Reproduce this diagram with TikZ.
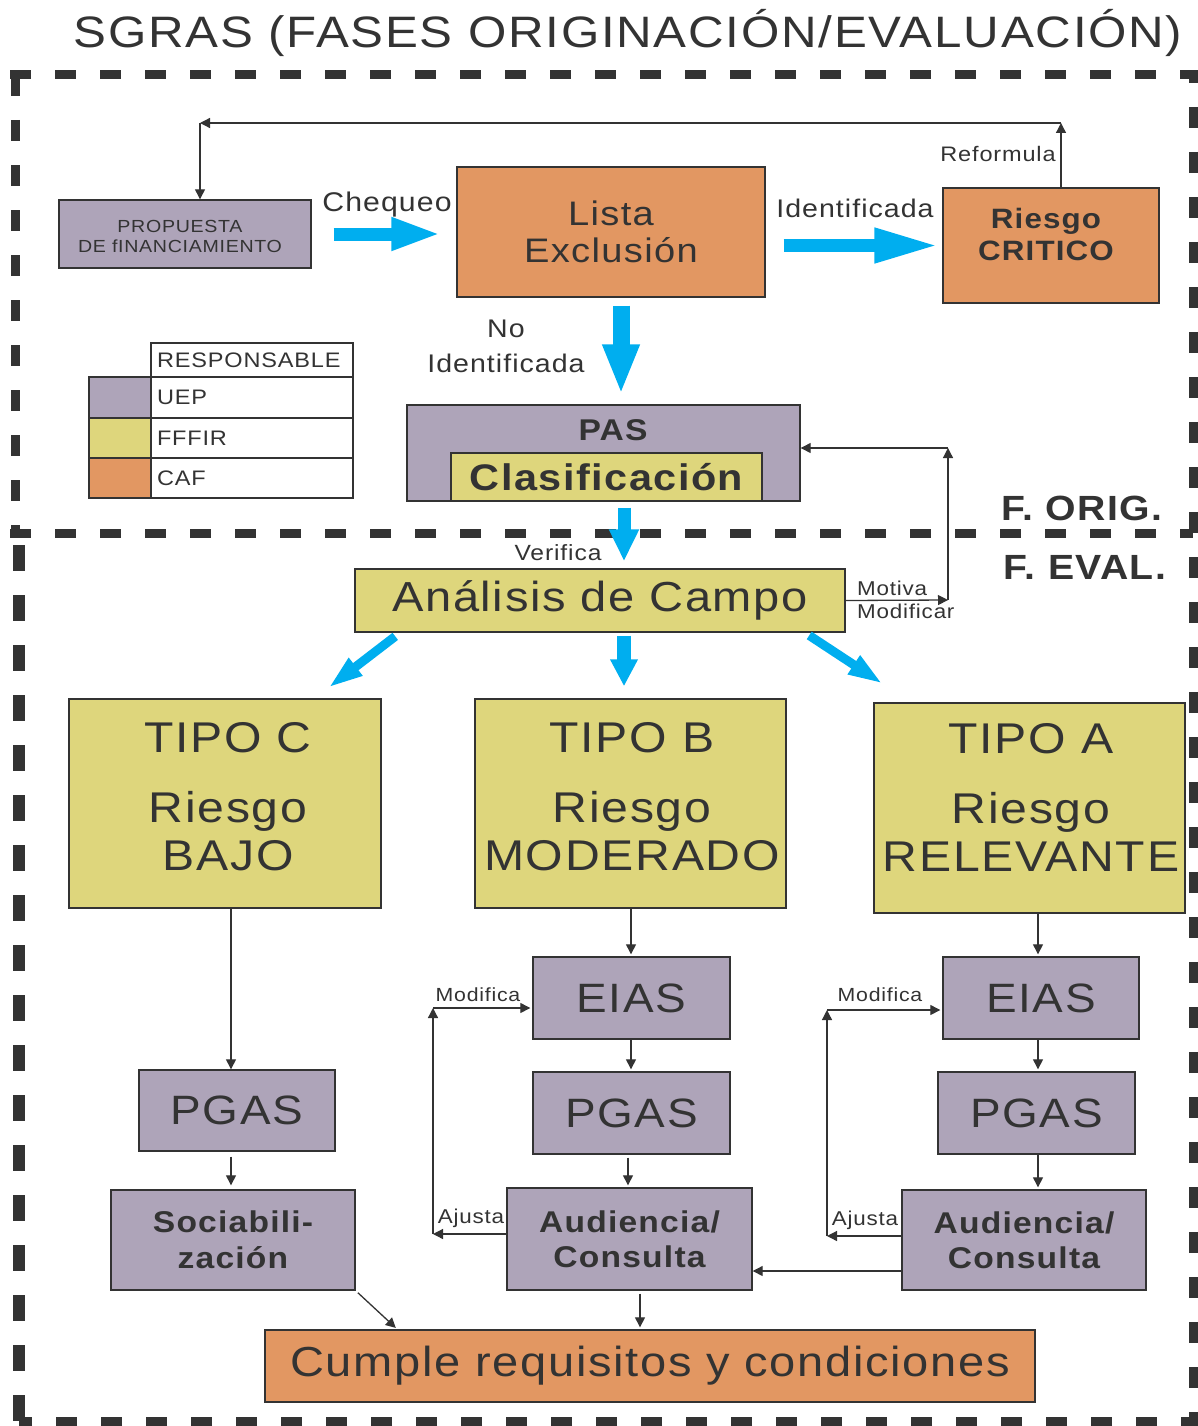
\documentclass[tikz,border=0pt]{standalone}
\usepackage{fontspec}
\setmainfont{Liberation Sans}[LetterSpace=4,FakeStretch=1.12]
\usetikzlibrary{arrows.meta,calc}
\definecolor{pur}{RGB}{174,164,185}
\definecolor{yel}{RGB}{222,214,124}
\definecolor{ora}{RGB}{226,151,98}
\definecolor{sky}{RGB}{0,174,239}
\definecolor{ink}{RGB}{51,51,51}
\newcommand\fz[2]{\fontsize{#1}{#2}\selectfont}
\begin{document}
\begin{tikzpicture}[x=1pt,y=-1pt,
  box/.style={draw=ink, line width=1.4pt, inner sep=0pt, text=ink, align=center},
  pbox/.style={box, fill=pur},
  ybox/.style={box, fill=yel},
  obox/.style={box, fill=ora},
  cell/.style={box, fill=white, minimum width=202pt, text width=190pt, inner xsep=6pt, align=left, font=\fz{21}{24}},
  lbl/.style={text=ink, inner sep=0pt, align=center},
  tarr/.style={draw=ink, line width=1.3pt, -{Triangle[length=10pt,width=10pt]}},
  bluea/.style n args={3}{draw=sky, line width=#1pt, -{Triangle[length=#2pt,width=#3pt]}},
  border/.style={draw=ink, line width=9pt, dash pattern=on 21pt off 24pt}]
\path[use as bounding box] (0,0) rectangle (1197,1426);
% dashed frame
\draw[border] (10,75) -- (1193,75) -- (1193,1421) -- (19,1421);
\draw[border] (15,75) -- (15,533);
\draw[draw=ink, line width=12pt, dash pattern=on 26pt off 24pt] (19,545) -- (19,1421);
\draw[border] (10,533) -- (1193,533);
% title
\node[lbl, font=\fz{44}{50}] (title) at (628,33) {SGRAS (FASES ORIGINACIÓN/EVALUACIÓN)};
% top nodes
\node[pbox, minimum width=252pt, minimum height=68pt] (prop) at (185,234) {};
\node[lbl, font=\fz{17.5}{20}] (propT) at (180,236) {PROPUESTA\\DE fINANCIAMIENTO};
\node[obox, minimum width=308pt, minimum height=130pt, font=\fz{34}{37}] (lista) at (611,232) {Lista\\Exclusión};
\node[obox, minimum width=216pt, minimum height=115pt] (crit) at (1051,245.5) {};
\node[lbl, font=\fz{28}{32}\bfseries] (critT) at (1046,234) {Riesgo\\CRITICO};
\node[lbl, font=\fz{27}{30}] (cheq) at (387,205) {Chequeo};
\node[lbl, font=\fz{25.5}{30}] (idl) at (855,208) {Identificada};
\node[lbl, font=\fz{21}{24}] (refl) at (998,154) {Reformula};
\node[lbl, font=\fz{25.5}{35}] (noid) at (506,346) {No\\Identificada};
% legend
\node[cell, minimum height=34pt] (lhead) at (252,360) {RESPONSABLE};
\node[cell, minimum height=41pt] (luep) at (252,397.5) {UEP};
\node[cell, minimum height=40pt] (lfff) at (252,438) {FFFIR};
\node[cell, minimum height=40pt] (lcaf) at (252,478) {CAF};
\node[box, fill=pur, minimum width=62pt, minimum height=41pt] (sw1) at (120,397.5) {};
\node[box, fill=yel, minimum width=62pt, minimum height=40pt] (sw2) at (120,438) {};
\node[box, fill=ora, minimum width=62pt, minimum height=40pt] (sw3) at (120,478) {};
% PAS
\node[pbox, minimum width=393pt, minimum height=96pt] (pas) at (603.5,453) {};
\node[lbl, font=\fz{30}{32}\bfseries] (pasT) at (613,430) {PAS};
\node[ybox, minimum width=311pt, minimum height=48pt, font=\fz{37}{40}\bfseries] (clas) at (606.5,477) {Clasificación};
\node[lbl, font=\fz{22}{24}] (ver) at (558,553) {Verifica};
\node[ybox, minimum width=490pt, minimum height=63pt, font=\fz{42}{46}] (anal) at (600,600.5) {Análisis de Campo};
\node[lbl, anchor=west, align=left, font=\fz{20}{23}] (mot) at (857,600) {Motiva\\Modificar};
\node[lbl, font=\fz{35}{38}\bfseries] (forig) at (1082,508) {F. ORIG.};
\node[lbl, font=\fz{35}{38}\bfseries] (feval) at (1085,567) {F. EVAL.};
% tipos
\node[ybox, minimum width=312pt, minimum height=209pt] (tc) at (225,803.5) {};
\node[ybox, minimum width=311pt, minimum height=209pt] (tb) at (630.5,803.5) {};
\node[ybox, minimum width=311pt, minimum height=210pt] (ta) at (1029.5,808) {};
\node[lbl, font=\fz{43}{48}] (tcT) at (228,797) {TIPO C\\[22pt]Riesgo\\BAJO};
\node[lbl, font=\fz{43}{48}] (tbT) at (632,797) {TIPO B\\[22pt]Riesgo\\MODERADO};
\node[lbl, font=\fz{43}{48}] (taT) at (1031,797) {TIPO A\\[22pt]Riesgo\\RELEVANTE};
% column C
\node[pbox, minimum width=196pt, minimum height=81pt, font=\fz{41}{44}] (pgc) at (237,1110.5) {PGAS};
\node[pbox, minimum width=244pt, minimum height=100pt, font=\fz{30}{36}\bfseries] (soc) at (233,1240) {Sociabili-\\zación};
% column B
\node[pbox, minimum width=197pt, minimum height=82pt, font=\fz{41}{44}] (eb) at (631.5,998) {EIAS};
\node[pbox, minimum width=197pt, minimum height=82pt, font=\fz{41}{44}] (pb) at (631.5,1113) {PGAS};
\node[pbox, minimum width=245pt, minimum height=102pt, font=\fz{30}{35}\bfseries] (ab) at (629.5,1239) {Audiencia/\\Consulta};
% column A
\node[pbox, minimum width=196pt, minimum height=82pt, font=\fz{41}{44}] (ea) at (1041,998) {EIAS};
\node[pbox, minimum width=197pt, minimum height=82pt, font=\fz{41}{44}] (pa) at (1036.5,1113) {PGAS};
\node[pbox, minimum width=244pt, minimum height=100pt, font=\fz{30}{35}\bfseries] (aa) at (1024,1240) {Audiencia/\\Consulta};
% final
\node[obox, minimum width=770pt, minimum height=72pt, font=\fz{42}{46}] (cum) at (650,1366) {Cumple requisitos y condiciones};
% loop labels
\node[lbl, font=\fz{20}{22}] (ajb) at (471,1218) {Ajusta};
\node[lbl, font=\fz{19}{22}] (modb) at (478,995) {Modifica};
\node[lbl, font=\fz{20}{22}] (aja) at (865,1220) {Ajusta};
\node[lbl, font=\fz{19}{22}] (moda) at (880,995) {Modifica};
% blue arrows
\draw[bluea={13}{50}{30}, shorten <=22pt, shorten >=15pt] (prop.east) -- (lista.west |- prop.east);
\draw[bluea={13}{65}{32}, shorten <=18pt, shorten >=3pt] (lista.east |- crit.west) -- (crit.west);
\draw[bluea={17}{50}{34}, shorten <=8pt, shorten >=10pt] (621,0 |- lista.south) -- (621,0 |- pas.north);
\draw[bluea={13}{32}{28}, shorten <=6pt, shorten >=7pt] (624,0 |- pas.south) -- (624,0 |- anal.north);
\draw[bluea={14}{27}{26}, shorten <=3pt, shorten >=12pt] (624,0 |- anal.south) -- (624,0 |- tb.north);
\coordinate (dl) at (328,688);
\coordinate (dr) at (883,684);
\draw[bluea={9}{35}{20}, shorten <=6pt] (400,0 |- anal.south) -- (dl);
\draw[bluea={9}{35}{20}, shorten <=5pt] (805,0 |- anal.south) -- (dr);
% reformula loop
\coordinate (rf1) at (1061,123);
\coordinate (rf2) at (200,123);
\draw[tarr] (rf1 |- crit.north) -- (rf1);
\draw[tarr] (rf1) -- (rf2);
\draw[tarr] (rf2) -- (rf2 |- prop.north);
% motiva loop
\coordinate (mo1) at (948,600);
\coordinate (mo2) at (948,448);
\draw[tarr] (anal.east) -- (mo1);
\draw[tarr] (mo1) -- (mo2);
\draw[tarr] (mo2) -- (mo2 -| pas.east);
% column arrows
\draw[tarr] (231,0 |- tc.south) -- (231,0 |- pgc.north);
\draw[tarr, shorten <=5pt, shorten >=4pt] (231,0 |- pgc.south) -- (231,0 |- soc.north);
\draw[tarr, shorten <=3pt, shorten >=2pt] (soc.south east) -- ($(cum.north west)+(133,0)$);
\draw[tarr, shorten >=2pt] (631,0 |- tb.south) -- (631,0 |- eb.north);
\draw[tarr, shorten >=2pt] (631,0 |- eb.south) -- (631,0 |- pb.north);
\draw[tarr, shorten <=3pt, shorten >=2pt] (628,0 |- pb.south) -- (628,0 |- ab.north);
\draw[tarr, shorten <=3pt, shorten >=2pt] (640,0 |- ab.south) -- (640,0 |- cum.north);
\draw[tarr, shorten >=2pt] (1038,0 |- ta.south) -- (1038,0 |- ea.north);
\draw[tarr, shorten >=2pt] (1038,0 |- ea.south) -- (1038,0 |- pa.north);
\draw[tarr, shorten >=2pt] (1038,0 |- pa.south) -- (1038,0 |- aa.north);
\coordinate (aaw) at ([yshift=-31pt]aa.west);
\draw[tarr] (aaw) -- (aaw -| ab.east);
% loop B
\coordinate (abw) at ([yshift=5pt]ab.west);
\coordinate (lb1) at (433,1234);
\coordinate (lb2) at (433,1008);
\draw[tarr] (abw) -- (lb1);
\draw[tarr] (lb1) -- (lb2);
\draw[tarr, shorten >=2pt] (lb2) -- (lb2 -| eb.west);
% loop A
\coordinate (aaw2) at ([yshift=4pt]aa.west);
\coordinate (la1) at (827,1236);
\coordinate (la2) at (827,1010);
\draw[tarr] (aaw2) -- (la1);
\draw[tarr] (la1) -- (la2);
\draw[tarr, shorten >=2pt] (la2) -- (la2 -| ea.west);
\end{tikzpicture}
\end{document}
